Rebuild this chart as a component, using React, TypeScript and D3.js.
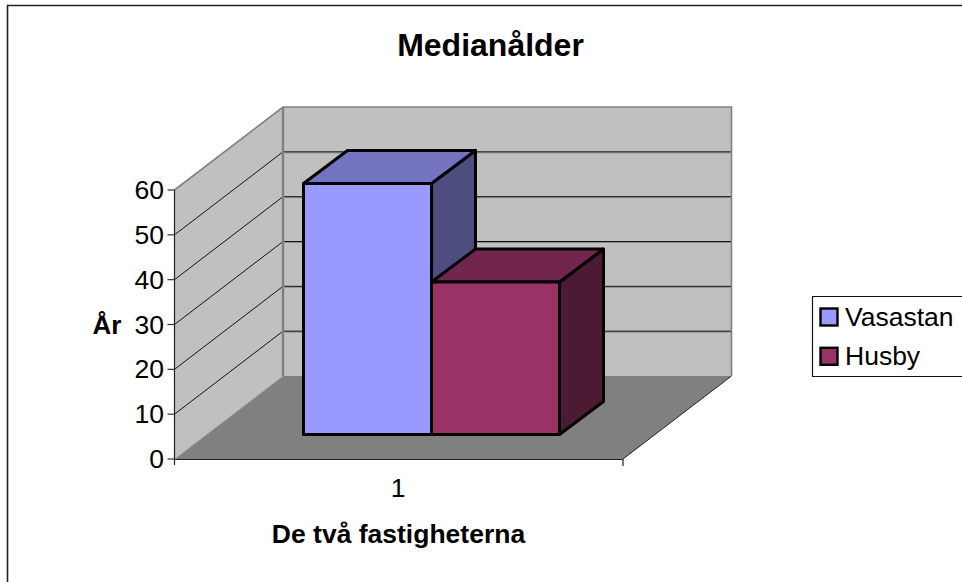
import React from "react";
import * as d3 from "d3";

const categories = ["1"];
const seriesNames = ["Vasastan", "Husby"];
const seriesValues = [56, 34];
const seriesColors = ["#9999ff", "#993366"];
const topColors = ["#7373bf", "#73264d"];
const sideColors = ["#4d4d80", "#4d1a33"];
const yTicks = [0, 10, 20, 30, 40, 50, 60];
const FONT = "'Liberation Sans', Arial, sans-serif";

const W = 962, H = 582;
const yScale = d3.scaleLinear().domain([0, 60]).range([459, 190]);
const xScale = d3.scaleBand().domain(categories).range([174.5, 623]);
const DX = 108.5, DY = -83;
const barX = d3.scaleBand().domain(seriesNames).range([303.5, 559.5]);
const barBase = 434.5, barDX = 44, barDY = -33;
const barUnit = yScale(0) - yScale(1);

const poly = (pts: [number, number][]) => (d3.line()(pts) as string) + "Z";

export default function App() {
  const y0 = yScale(0), y60 = yScale(60);
  const xl = xScale.range()[0], xr = xScale.range()[1];
  return (
    <svg width={W} height={H} viewBox={`0 0 ${W} ${H}`}
      style={{ position: "absolute", left: 0, top: 0, display: "block", fontFamily: FONT }}>
      <rect width={W} height={H} fill="#fff" />
      <path d={`M7.5,${H}V5.5H${W}`} fill="none" stroke="#222" strokeWidth={1.6} />
      <text x={490.5} y={56} textAnchor="middle" fontSize={32} fontWeight="bold">Medianålder</text>

      {/* walls */}
      <path d={poly([[xl, y0], [xl + DX, y0 + DY], [xl + DX, y60 + DY], [xl, y60]])} fill="#c0c0c0" />
      <path d={poly([[xl + DX, y0 + DY], [xr + DX, y0 + DY], [xr + DX, y60 + DY], [xl + DX, y60 + DY]])} fill="#c0c0c0" />
      <path d={poly([[xl, y0], [xr, y0], [xr + DX, y0 + DY], [xl + DX, y0 + DY]])} fill="#808080" />
      {yTicks.filter(t => t > 0 && t < 60).map(t => {
        const y = yScale(t);
        return (
          <g key={t}>
            <path d={`M${xl + DX + 2},${y + DY + 1}H${xr + DX}`} stroke="#8c8c8c" strokeWidth={1} fill="none" />
            <path d={`M${xl},${y}L${xl + DX},${y + DY}H${xr + DX}`} stroke="#111" strokeWidth={1} fill="none" />
          </g>
        );
      })}
      <path d={`M${xl},${y60}L${xl + DX},${y60 + DY}H${xr + DX}V${y0 + DY}`} fill="none" stroke="#808080" strokeWidth={1.6} />
      <path d={`M${xl + DX},${y60 + DY}V${y0 + DY}`} fill="none" stroke="#808080" strokeWidth={2.4} />
      <path d={`M${xl},${y0}L${xl + DX},${y0 + DY}`} fill="none" stroke="#a8a8a8" strokeWidth={1} />
      <path d={`M${xr},${y0}L${xr + DX},${y0 + DY}`} fill="none" stroke="#222" strokeWidth={1} />

      {/* axes */}
      <path d={`M${xl},${y60}V${y0 + 6}`} stroke="#222" strokeWidth={1.2} fill="none" />
      <path d={`M${xl},${y0 + 0.5}H${xr}V${y0 + 7}`} stroke="#222" strokeWidth={1.2} fill="none" />
      {yTicks.map(t => (
        <g key={t}>
          <path d={`M${xl - 7},${yScale(t)}H${xl}`} stroke="#333" strokeWidth={1.2} />
          <text x={164} y={yScale(t) + 9} textAnchor="end" fontSize={26.5}>{t}</text>
        </g>
      ))}
      <text x={398} y={497} textAnchor="middle" fontSize={26.5}>{categories[0]}</text>
      <text x={107} y={333.5} textAnchor="middle" fontSize={26} fontWeight="bold">År</text>
      <text x={398.5} y={543} textAnchor="middle" fontSize={26.5} fontWeight="bold">De två fastigheterna</text>

      {/* bars: each later bar sits over the side of the one before it */}
      {seriesNames.map((n, i) => {
        const x0 = barX(n)!, x1 = x0 + barX.bandwidth();
        const top = barBase - seriesValues[i] * barUnit;
        return (
          <g key={n} stroke="#000" strokeWidth={3} strokeLinejoin="round">
            <path d={poly([[x1, top], [x1 + barDX, top + barDY], [x1 + barDX, barBase + barDY], [x1, barBase]])} fill={sideColors[i]} />
            <path d={poly([[x0, top], [x0 + barDX, top + barDY], [x1 + barDX, top + barDY], [x1, top]])} fill={topColors[i]} />
            <path d={poly([[x0, top], [x1, top], [x1, barBase], [x0, barBase]])} fill={seriesColors[i]} />
          </g>
        );
      })}

      {/* legend */}
      <path d={`M${W},296.5H812.5V376.5H${W}`} fill="#fff" stroke="#111" strokeWidth={1.2} />
      {seriesNames.map((n, i) => {
        const y = 308.5 + i * 39.3;
        return (
          <g key={n}>
            <rect x={820.5} y={y} width={17} height={17} fill={seriesColors[i]} stroke="#000" strokeWidth={2.4} />
            <text x={845} y={y + 17.5} fontSize={26.5}>{n}</text>
          </g>
        );
      })}
    </svg>
  );
}
